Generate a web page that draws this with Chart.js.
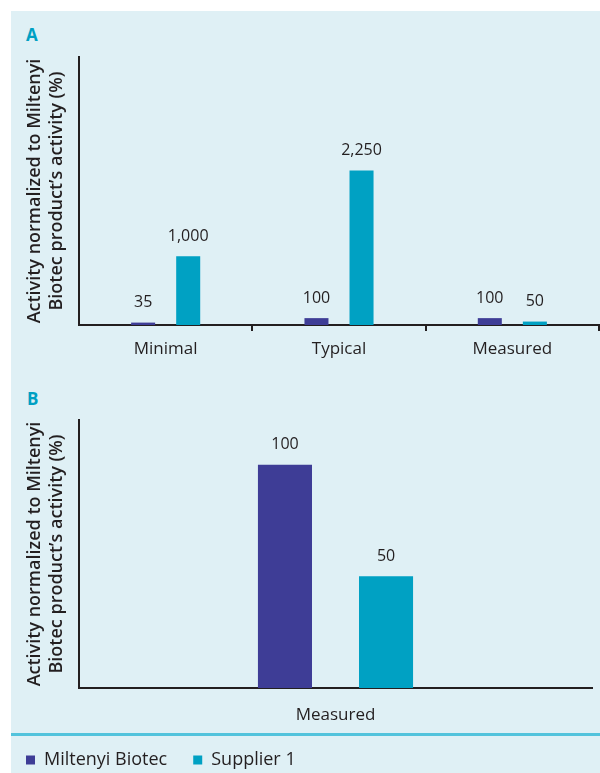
<!DOCTYPE html>
<html>
<head>
<meta charset="utf-8">
<script src="https://cdn.jsdelivr.net/npm/chart.js@4"></script>
<style>
  html, body { margin: 0; padding: 0; background: #fff; overflow: hidden; width: 600px; height: 773px; }
  #panel { position: absolute; left: 11px; top: 11px; width: 589px; height: 762px; background: #dff0f5; }
  .tag { position: absolute; font-family: "Open Sans", sans-serif; font-weight: 700; font-size: 17px; line-height: 17px; color: #00a0c3; }
  #sep { position: absolute; left: 11px; top: 733px; width: 589px; height: 3px; background: #52c3dc; }
  canvas { position: absolute; left: 0; }
</style>
</head>
<body>
<div id="panel"></div>
<div id="sep"></div>
<div class="tag" style="left:26px; top:26px;">A</div>
<div class="tag" style="left:27px; top:390px;">B</div>
<canvas id="chartA" width="600" height="370" style="top:0"></canvas>
<canvas id="chartB" width="600" height="399" style="top:380px"></canvas>
<script>
// panel A
var categoriesA = ["Minimal", "Typical", "Measured"];
var miltenyiA = [35, 100, 100];
var supplierA = [1000, 2250, 50];
// panel B
var categoriesB = ["Measured"];
var miltenyiB = [100];
var supplierB = [50];

var seriesNames = ["Miltenyi Biotec", "Supplier 1"];
var yTitle = ["Activity normalized to Miltenyi", "Biotec product\u2019s activity (%)"];

var dark = "#231f20";
var purple = "#3e3d96";
var teal = "#00a1c3";
var font = "'Open Sans', sans-serif";

// value labels above bars
var valueLabels = {
  id: "valueLabels",
  afterDatasetsDraw: function(chart) {
    var ctx = chart.ctx;
    ctx.save();
    ctx.font = "16px " + font;
    ctx.fillStyle = dark;
    ctx.textAlign = "center";
    ctx.textBaseline = "middle";
    chart.data.datasets.forEach(function(ds, i) {
      chart.getDatasetMeta(i).data.forEach(function(bar, j) {
        ctx.fillText(ds.data[j].toLocaleString("en-US"), bar.x, bar.y - 20);
      });
    });
    ctx.restore();
  }
};

function makeChart(id, labels, a, b, opts) {
  return new Chart(document.getElementById(id), {
    type: "bar",
    data: {
      labels: labels,
      datasets: [
        { label: seriesNames[0], data: a, backgroundColor: purple,
          categoryPercentage: opts.catPct, barPercentage: opts.barPct },
        { label: seriesNames[1], data: b, backgroundColor: teal,
          categoryPercentage: opts.catPct, barPercentage: opts.barPct }
      ]
    },
    options: {
      responsive: false,
      animation: false,
      layout: { padding: opts.padding },
      plugins: {
        tooltip: { enabled: false },
        legend: {
          display: opts.legend,
          position: "bottom",
          align: "start",
          labels: {
            boxWidth: 9, boxHeight: 9, padding: 26,
            color: dark, font: { family: font, size: 18 }
          }
        }
      },
      scales: {
        x: {
          grid: {
            display: opts.xTicks,
            drawOnChartArea: false,
            drawTicks: true,
            tickLength: 6,
            lineWidth: 2,
            color: function(c) { return c.index === 0 ? "rgba(0,0,0,0)" : dark; }
          },
          border: { display: true, color: dark, width: 2 },
          ticks: { color: dark, padding: opts.xPad, font: { family: font, size: 17 } },
          afterFit: function(s) { s.height = opts.xHeight; }
        },
        y: {
          min: 0,
          max: opts.max,
          grid: { display: false, drawTicks: false },
          border: { display: true, color: dark, width: 2 },
          ticks: { display: false },
          title: {
            display: true,
            text: yTitle,
            color: dark,
            padding: { top: 24, bottom: 0 },
            font: { family: font, size: 18, weight: "600", lineHeight: 1.22 }
          },
          afterFit: function(s) { s.width = 79; }
        }
      }
    },
    plugins: [valueLabels]
  });
}

makeChart("chartA", categoriesA, miltenyiA, supplierA, {
  catPct: 0.52, barPct: 0.533, max: 3900, legend: false, xTicks: true,
  xPad: 8, xHeight: 35, padding: { top: 57, right: 1, bottom: 10, left: 0 }
});

makeChart("chartB", categoriesB, miltenyiB, supplierB, {
  catPct: 0.394, barPct: 0.535, max: 120, legend: true, xTicks: false,
  xPad: 11, xHeight: 37, padding: { top: 40, right: 8, bottom: 0, left: 0 }
});
</script>
</body>
</html>
